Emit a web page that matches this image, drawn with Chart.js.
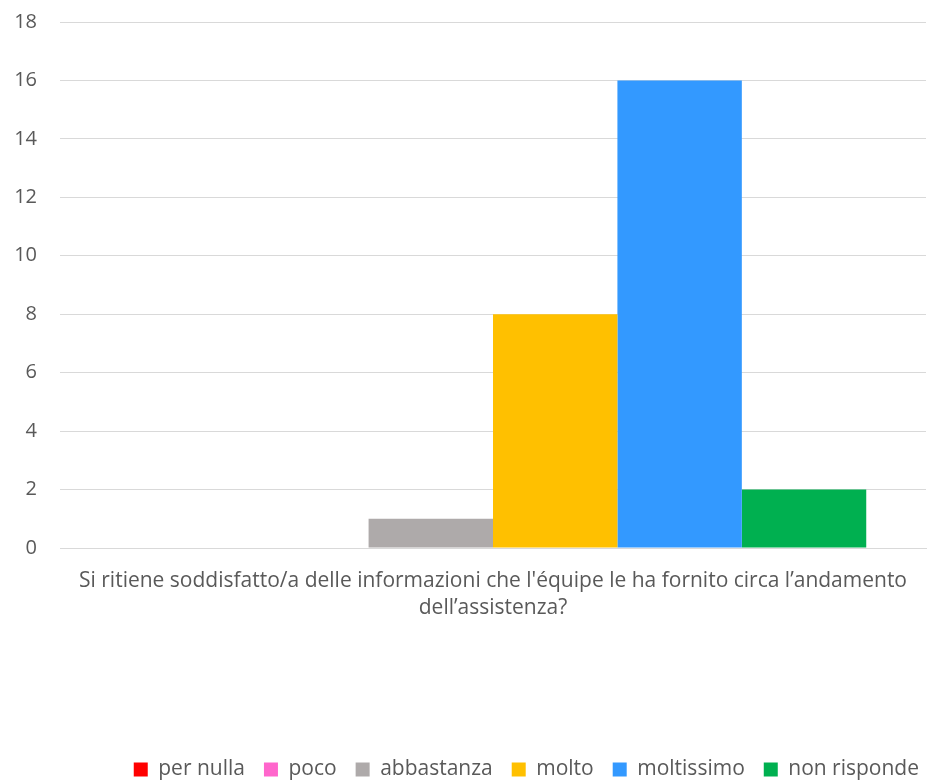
<!DOCTYPE html>
<html>
<head>
<meta charset="utf-8">
<script src="https://cdn.jsdelivr.net/npm/chart.js@4/dist/chart.umd.min.js"></script>
<style>
  html, body { margin: 0; padding: 0; background: #fff; }
  #wrap { width: 927px; height: 780px; }
</style>
</head>
<body>
<div id="wrap"><canvas id="canvas" width="927" height="780"></canvas></div>
<script>
// question on the x axis (wrapped on two lines like the original)
const categories = [["Si ritiene soddisfatto/a delle informazioni che l'équipe le ha fornito circa l’andamento", "dell’assistenza?"]];
const seriesNames = ['per nulla', 'poco', 'abbastanza', 'molto', 'moltissimo', 'non risponde'];
const seriesValues = [0, 0, 1, 8, 16, 2];
const seriesColors = ['#FF0000', '#FF66CC', '#AEAAAA', '#FFC000', '#3399FF', '#00B050'];
const yTicks = [0, 2, 4, 6, 8, 10, 12, 14, 16, 18];

const fontFamily = '"Open Sans", sans-serif';
const textColor = '#595959';

// nudge the legend to the right, like the original
const legendShift = {
    id: 'legendShift',
    afterLayout(chart) {
        if (chart.legend) {
            chart.legend.left += 12;
            chart.legend.right += 12;
        }
    }
};

const ctx = document.getElementById('canvas').getContext('2d');

new Chart(ctx, {
    type: 'bar',
    data: {
        labels: categories,
        datasets: seriesNames.map((name, i) => ({
            label: name,
            data: [seriesValues[i]],
            backgroundColor: seriesColors[i],
            borderWidth: 0,
            barPercentage: 1,
            categoryPercentage: 0.862
        }))
    },
    options: {
        responsive: false,
        animation: false,
        layout: { padding: { top: 22, right: 1, left: 0, bottom: -10 } },
        plugins: {
            tooltip: { enabled: false },
            legend: {
                position: 'bottom',
                align: 'end',
                labels: {
                    color: textColor,
                    font: { family: fontFamily, size: 21 },
                    boxWidth: 14,
                    boxHeight: 14,
                    padding: 19
                }
            }
        },
        scales: {
            x: {
                grid: { display: false },
                border: { display: true, color: '#D9D9D9', width: 1 },
                ticks: {
                    color: textColor,
                    font: { family: fontFamily, size: 21, lineHeight: 1.3 },
                    maxRotation: 0,
                    padding: 11
                },
                afterFit: (scale) => { scale.height = 192; }
            },
            y: {
                min: 0,
                max: 18,
                afterBuildTicks: (scale) => { scale.ticks = yTicks.map(v => ({ value: v })); },
                grid: { color: '#D9D9D9', lineWidth: 1, drawTicks: false },
                border: { display: false },
                ticks: {
                    color: textColor,
                    font: { family: fontFamily, size: 20 },
                    padding: 23
                },
                afterFit: (scale) => {
                    scale.width = 60;
                    scale.paddingTop = 0;
                    scale.paddingBottom = 0;
                }
            }
        }
    },
    plugins: [legendShift]
});
</script>
</body>
</html>
